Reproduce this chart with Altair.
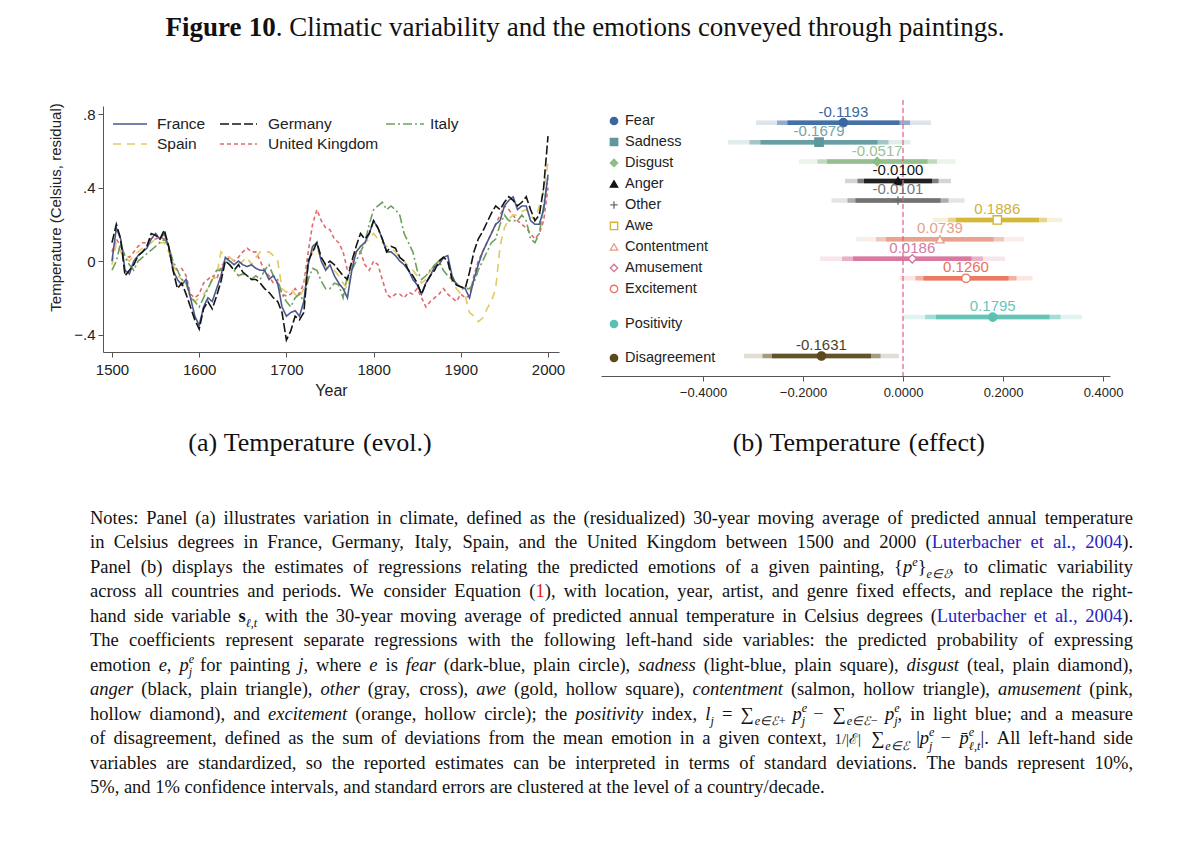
import re
import altair as alt
import pandas as pd

W, H = 1184, 836

# ---------------- Panel (a): residual temperature, 5-year steps ----------------
years = list(range(1500, 2001, 5))
countries = ["France", "Germany", "Italy", "Spain", "United Kingdom"]
france = [0.00, 0.18, 0.12, -0.05, -0.07, 0.00, 0.03, 0.05, 0.07, 0.12, 0.15, 0.12, 0.15, 0.08, -0.05, -0.10, -0.13, -0.10, -0.20, -0.30,
          -0.35, -0.25, -0.20, -0.22, -0.15, -0.08, 0.02, 0.00, -0.02, 0.00, -0.02, -0.03, -0.02, -0.04, -0.05, -0.05, -0.10, -0.08, -0.12, -0.25,
          -0.30, -0.28, -0.27, -0.30, -0.22, -0.02, 0.08, 0.10, 0.00, -0.05, -0.02, -0.08, -0.12, -0.15, -0.20, -0.05, 0.05, 0.08, 0.10, 0.15,
          0.22, 0.18, 0.12, 0.05, 0.05, 0.03, 0.00, -0.02, -0.05, -0.10, -0.13, -0.18, -0.12, -0.08, -0.03, -0.02, 0.02, 0.03, -0.08, -0.13,
          -0.14, -0.15, -0.20, -0.10, -0.02, 0.05, 0.10, 0.15, 0.20, 0.22, 0.30, 0.33, 0.35, 0.28, 0.30, 0.30, 0.22, 0.20, 0.20, 0.28,
          0.47]
germany = [0.10, 0.20, 0.12, -0.08, -0.05, -0.02, 0.03, 0.05, 0.08, 0.15, 0.14, 0.12, 0.17, 0.08, -0.05, -0.15, -0.12, -0.18, -0.25, -0.32,
           -0.37, -0.26, -0.22, -0.26, -0.19, -0.11, 0.00, -0.02, -0.05, -0.02, -0.06, -0.08, -0.10, -0.10, -0.12, -0.15, -0.17, -0.20, -0.22, -0.28,
           -0.43, -0.38, -0.30, -0.32, -0.28, 0.00, 0.05, 0.10, 0.02, -0.02, 0.00, -0.02, -0.05, -0.08, -0.10, 0.00, 0.08, 0.15, 0.12, 0.15,
           0.22, 0.18, 0.12, 0.05, 0.08, 0.07, 0.02, 0.00, -0.05, -0.08, -0.12, -0.18, -0.12, -0.08, -0.05, 0.00, 0.02, 0.00, -0.10, -0.13,
           -0.14, -0.15, -0.06, 0.05, 0.12, 0.16, 0.21, 0.26, 0.30, 0.28, 0.32, 0.35, 0.33, 0.30, 0.32, 0.35, 0.28, 0.22, 0.25, 0.40,
           0.68]
italy = [-0.05, 0.00, 0.10, 0.02, -0.02, -0.05, 0.00, 0.02, 0.04, 0.06, 0.08, 0.10, 0.12, 0.08, 0.00, -0.05, -0.10, -0.12, -0.20, -0.22,
         -0.25, -0.20, -0.15, -0.10, -0.05, -0.05, 0.00, -0.02, -0.05, -0.08, -0.07, -0.08, -0.10, -0.08, -0.10, -0.05, -0.02, -0.08, -0.10, -0.18,
         -0.22, -0.25, -0.20, -0.18, -0.22, -0.10, -0.04, -0.05, -0.11, -0.15, -0.15, -0.12, -0.13, -0.20, -0.08, -0.05, 0.00, 0.05, 0.10, 0.20,
         0.28, 0.30, 0.32, 0.28, 0.30, 0.28, 0.25, 0.15, 0.10, 0.05, -0.05, -0.10, -0.08, -0.05, -0.02, 0.00, -0.05, -0.08, -0.10, -0.12,
         -0.15, -0.15, -0.15, -0.12, -0.05, 0.00, 0.05, 0.10, 0.12, 0.20, 0.25, 0.22, 0.22, 0.22, 0.25, 0.22, 0.12, 0.10, 0.15, 0.30,
         0.45]
spain = [-0.02, 0.10, 0.05, 0.02, 0.00, 0.03, 0.05, 0.07, 0.08, 0.10, 0.12, 0.10, 0.10, 0.05, -0.02, -0.08, -0.10, -0.12, -0.18, -0.22,
         -0.20, -0.18, -0.15, -0.10, -0.08, 0.05, 0.03, 0.02, 0.00, -0.02, 0.00, 0.02, -0.02, 0.02, 0.05, 0.05, 0.05, 0.03, 0.00, -0.15,
         -0.17, -0.15, -0.18, -0.20, -0.15, 0.00, 0.05, 0.08, 0.00, -0.03, -0.05, -0.05, -0.08, -0.12, -0.15, -0.05, 0.05, 0.08, 0.10, 0.12,
         0.15, 0.12, 0.10, 0.08, 0.07, 0.05, 0.02, 0.00, -0.03, -0.05, -0.08, -0.12, -0.10, -0.05, -0.02, 0.00, 0.02, 0.00, -0.12, -0.15,
         -0.18, -0.19, -0.28, -0.30, -0.33, -0.31, -0.26, -0.22, -0.15, 0.08, 0.18, 0.23, 0.25, 0.25, 0.27, 0.28, 0.25, 0.22, 0.30, 0.38,
         0.54]
uk = [0.05, 0.12, 0.08, 0.03, 0.02, 0.05, 0.08, 0.10, 0.10, 0.12, 0.12, 0.13, 0.12, 0.08, -0.02, -0.05, -0.04, -0.08, -0.18, -0.20,
      -0.18, -0.12, -0.10, -0.08, -0.10, -0.03, 0.00, 0.02, 0.00, 0.02, 0.05, 0.07, 0.05, 0.05, 0.00, -0.05, -0.08, -0.12, -0.12, -0.18,
      -0.19, -0.18, -0.15, -0.18, -0.12, 0.05, 0.20, 0.28, 0.22, 0.18, 0.17, 0.12, 0.10, 0.05, -0.05, -0.02, 0.05, 0.05, -0.02, -0.05,
      0.00, -0.02, -0.10, -0.18, -0.20, -0.18, -0.18, -0.20, -0.17, -0.18, -0.15, -0.20, -0.25, -0.22, -0.20, -0.18, -0.15, -0.18, -0.20, -0.22,
      -0.18, -0.20, -0.19, -0.08, 0.00, 0.05, 0.10, 0.15, 0.20, 0.25, 0.30, 0.28, 0.25, 0.22, 0.20, 0.18, 0.15, 0.12, 0.15, 0.22,
      0.40]
series = {"France": france, "Germany": germany, "Italy": italy, "Spain": spain, "United Kingdom": uk}
line_colors = ["#4b5a8e", "#141414", "#6f9f5c", "#e2c964", "#e26a6a"]
line_dashes = [[1, 0], [9, 3], [9, 3, 2, 3], [8, 6], [4, 3]]

# ---------------- Panel (b): coefficient estimates ----------------
emotions = ["Fear", "Sadness", "Disgust", "Anger", "Other", "Awe", "Contentment",
            "Amusement", "Excitement", "Positivity", "Disagreement"]
row_pos = [0, 1, 2, 3, 4, 5, 6, 7, 8, 10, 12]
legend_row = [0, 1, 2, 3, 4, 5, 6, 7, 8, 9.67, 11.29]
estimate = [-0.1193, -0.1679, -0.0517, -0.0100, -0.0101, 0.1886, 0.0739, 0.0186, 0.1260, 0.1795, -0.1631]
lo90 = [-0.231, -0.285, -0.152, -0.078, -0.095, 0.106, -0.034, -0.100, 0.041, 0.066, -0.262]
hi90 = [-0.007, -0.051, 0.049, 0.058, 0.075, 0.272, 0.181, 0.137, 0.211, 0.293, -0.064]
lo95 = [-0.252, -0.307, -0.171, -0.091, -0.111, 0.090, -0.054, -0.122, 0.025, 0.044, -0.281]
hi95 = [0.014, -0.029, 0.068, 0.071, 0.091, 0.288, 0.202, 0.160, 0.227, 0.315, -0.045]
lo99 = [-0.294, -0.350, -0.208, -0.116, -0.143, 0.059, -0.094, -0.166, -0.007, 0.001, -0.318]
hi99 = [0.056, 0.015, 0.105, 0.096, 0.123, 0.319, 0.242, 0.204, 0.259, 0.358, -0.008]
band_colors = ["#3b67a1", "#5f979d", "#8fbb8a", "#141414", "#6a6a6a", "#d2b42c", "#e89c85",
               "#d6709b", "#e8725a", "#5bc0b2", "#5b491d"]
label_colors = ["#3b67a1", "#73a4a9", "#9cc196", "#141414", "#777777", "#cdb23a", "#e6a08c",
                "#d27aa2", "#e8725a", "#6cc5b9", "#4e3f1f"]
marker_shapes = ["circle", "square", "diamond", "triangle-up", "M-1,0H1M0,-1V1", "square",
                 "triangle-up", "diamond", "circle", "circle", "circle"]
hollow = [False, False, False, False, False, True, True, True, True, False, False]

# ---------------- Text ----------------
title_runs = [("Figure 10", "b"), (". Climatic variability and the emotions conveyed through paintings.", "r")]
caption_a = [("(a) Temperature (evol.)", "r")]
caption_b = [("(b) Temperature (effect)", "r")]
notes = [
    [("Notes: Panel (a) illustrates variation in climate, defined as the (residualized) 30-year moving average of predicted annual temperature", "r")],
    [("in Celsius degrees in France, Germany, Italy, Spain, and the United Kingdom between 1500 and 2000 (", "r"), ("Luterbacher et al., 2004", "bl"), (").", "r")],
    [("Panel (b) displays the estimates of regressions relating the predicted emotions of a given painting, {", "r"), ("p", "i"), ("e", "sup"), ("}", "r"), ("e∈ℰ", "sub"), (", to climatic variability", "r")],
    [("across all countries and periods. We consider Equation (", "r"), ("1", "rd"), ("), with location, year, artist, and genre fixed effects, and replace the right-", "r")],
    [("hand side variable ", "r"), ("s", "b"), ("ℓ,t", "sub"), (" with the 30-year moving average of predicted annual temperature in Celsius degrees (", "r"), ("Luterbacher et al., 2004", "bl"), (").", "r")],
    [("The coefficients represent separate regressions with the following left-hand side variables: the predicted probability of expressing", "r")],
    [("emotion ", "r"), ("e", "i"), (", ", "r"), ("p", "i"), ("e", "supn"), ("j", "sub"), (" for painting ", "r"), ("j", "i"), (", where ", "r"), ("e", "i"), (" is ", "r"), ("fear", "i"), (" (dark-blue, plain circle), ", "r"), ("sadness", "i"), (" (light-blue, plain square), ", "r"), ("disgust", "i"), (" (teal, plain diamond),", "r")],
    [("anger", "i"), (" (black, plain triangle), ", "r"), ("other", "i"), (" (gray, cross), ", "r"), ("awe", "i"), (" (gold, hollow square), ", "r"), ("contentment", "i"), (" (salmon, hollow triangle), ", "r"), ("amusement", "i"), (" (pink,", "r")],
    [("hollow diamond), and ", "r"), ("excitement", "i"), (" (orange, hollow circle); the ", "r"), ("positivity", "i"), (" index, ", "r"), ("l", "i"), ("j", "sub"), (" = ∑", "r"), ("e∈ℰ+", "sub"), (" ", "r"), ("p", "i"), ("e", "supn"), ("j", "sub"), (" − ∑", "r"), ("e∈ℰ−", "sub"), (" ", "r"), ("p", "i"), ("e", "supn"), ("j", "sub"), (", in light blue; and a measure", "r")],
    [("of disagreement, defined as the sum of deviations from the mean emotion in a given context, ", "r"), ("1/|ℰ|", "frac"), (" ∑", "r"), ("e∈ℰ", "sub"), (" |", "r"), ("p", "i"), ("e", "supn"), ("j", "sub"), (" − ", "r"), ("p\u0304", "i"), ("e", "supn"), ("ℓ,t", "sub"), ("|. All left-hand side", "r")],
    [("variables are standardized, so the reported estimates can be interpreted in terms of standard deviations. The bands represent 10%,", "r")],
    [("5%, and 1% confidence intervals, and standard errors are clustered at the level of a country/decade.", "r")],
]

# ---------------- simple typesetter (Times metrics = Liberation Serif) ----------------
TR = {}
for ch, w in zip(" !\"#$%&'()*+,-./", [250, 333, 408, 500, 500, 833, 778, 180, 333, 333, 500, 564, 250, 333, 250, 278]):
    TR[ch] = w
for ch in "0123456789":
    TR[ch] = 500
for ch, w in zip(":;<=>?@", [278, 278, 564, 564, 564, 444, 921]):
    TR[ch] = w
for ch, w in zip("ABCDEFGHIJKLMNOPQRSTUVWXYZ", [722, 667, 667, 722, 611, 556, 722, 722, 333, 389, 722, 611, 889, 722, 722, 556, 722, 667, 556, 611, 722, 722, 944, 722, 722, 611]):
    TR[ch] = w
for ch, w in zip("abcdefghijklmnopqrstuvwxyz", [444, 500, 444, 500, 444, 333, 500, 500, 278, 278, 500, 278, 778, 500, 500, 500, 500, 333, 389, 278, 500, 500, 722, 500, 500, 444]):
    TR[ch] = w
TR.update({"[": 333, "]": 333, "{": 480, "|": 200, "}": 480})
TI = dict(TR)
for ch, w in zip("abcdefghijklmnopqrstuvwxyz", [500, 500, 444, 500, 444, 278, 500, 500, 278, 278, 444, 278, 722, 500, 500, 500, 500, 389, 389, 278, 500, 444, 667, 444, 444, 389]):
    TI[ch] = w
TB = dict(TR)
for ch, w in zip("abcdefghijklmnopqrstuvwxyz", [500, 556, 444, 556, 444, 333, 500, 556, 278, 333, 556, 278, 833, 556, 500, 556, 556, 444, 389, 333, 556, 500, 722, 500, 500, 444]):
    TB[ch] = w
TB["F"] = 611
SPECIAL = {"∈": 667, "ℰ": 760, "∑": 760, "−": 600, "ℓ": 420, "\u0304": 0}

STYLE = {
    "r": dict(tbl=TR, scale=1.0, dy=0.0, adv=True, face="r"),
    "i": dict(tbl=TI, scale=1.0, dy=0.0, adv=True, face="i"),
    "b": dict(tbl=TB, scale=1.0, dy=0.0, adv=True, face="b"),
    "bl": dict(tbl=TR, scale=1.0, dy=0.0, adv=True, face="bl"),
    "rd": dict(tbl=TR, scale=1.0, dy=0.0, adv=True, face="rd"),
    "sup": dict(tbl=TI, scale=0.66, dy=-0.40, adv=True, face="i"),
    "supn": dict(tbl=TI, scale=0.66, dy=-0.42, adv=False, face="i"),
    "sub": dict(tbl=TI, scale=0.66, dy=0.30, adv=True, face="i"),
    "frac": dict(tbl=TR, scale=0.8, dy=0.0, adv=True, face="r"),
}


def typeset(runs, x, y, fs, target=None, center=None):
    items = []
    for text, st in runs:
        spec = STYLE[st]
        for part in re.split(r"( )", text):
            if not part:
                continue
            w = sum(spec["tbl"].get(ch, SPECIAL.get(ch, 500)) for ch in part) * fs * spec["scale"] / 1000.0
            items.append((part, st, w))
    adv = [w if (STYLE[st]["adv"] or part == " ") else 0.0 for part, st, w in items]
    natural = sum(adv)
    nsp = sum(1 for part, st, w in items if part == " ")
    extra = (target - natural) / nsp if (target and nsp) else 0.0
    if center is not None:
        x = center - natural / 2.0
    out, cx = [], x
    for (part, st, w), a in zip(items, adv):
        if part == " ":
            cx += w + extra
            continue
        spec = STYLE[st]
        out.append(dict(text=part, face=spec["face"], x=cx, y=y + spec["dy"] * fs, fs=fs * spec["scale"]))
        cx += a
    return out


text_rows = []
text_rows += typeset(title_runs, 0, 28, 27, center=577)
text_rows += typeset(caption_a, 0, 443, 26, center=302)
text_rows += typeset(caption_b, 0, 443, 26, center=851)
NOTE_X, NOTE_W, NOTE_Y0, NOTE_DY, NOTE_FS = 82, 1043, 516, 24.45, 18.5
for k, runs in enumerate(notes):
    tgt = NOTE_W if k < len(notes) - 1 else None
    text_rows += typeset(runs, NOTE_X, NOTE_Y0 + k * NOTE_DY, NOTE_FS, target=tgt)
text_df = pd.DataFrame(text_rows)

# ---------------- Panel (a) chart ----------------
order = ["United Kingdom", "Spain", "Italy", "France", "Germany"]
rows = []
for c in order:
    for yr, v in zip(years, series[c]):
        rows.append({"country": c, "year": yr, "temp": v})
df_a = pd.DataFrame(rows)

AX = dict(labelFont="Liberation Sans", titleFont="Liberation Sans", labelColor="#222", titleColor="#222",
          domainColor="#555", tickColor="#555", grid=False, tickSize=5, titleFontWeight="normal")
xa = alt.Scale(domain=[1489.7, 2012.6], range=[95, 551], nice=False, zero=False)
ya = alt.Scale(domain=[-0.495, 0.844], range=[344, 98], nice=False, zero=False)
lines = alt.Chart(df_a).mark_line(strokeWidth=1.6).encode(
    x=alt.X("year:Q", scale=xa, axis=alt.Axis(orient="bottom", offset=344 - H, values=list(range(1500, 2001, 100)),
                                                format="d", title="Year", labelFontSize=15, titleFontSize=16,
                                                labelPadding=5, titlePadding=5, **AX)),
    y=alt.Y("temp:Q", scale=ya, axis=alt.Axis(orient="left", offset=-95, values=[-0.4, 0, 0.4, 0.8],
                                               labelExpr="datum.value == 0 ? '0' : replace(format(datum.value, '.1f'), '0.', '.')",
                                               title="Temperature (Celsius, residual)", labelFontSize=15, titleFontSize=15,
                                               labelPadding=3, titlePadding=10, titleY=199, **AX)),
    color=alt.Color("country:N", scale=alt.Scale(domain=countries, range=line_colors), legend=None),
    strokeDash=alt.StrokeDash("country:N", scale=alt.Scale(domain=countries, range=line_dashes), legend=None),
)
leg_slots = {"France": (105, 139, 149, 116), "Germany": (212, 249, 260, 116), "Italy": (378, 416, 422, 116),
             "Spain": (105, 139, 149, 136), "United Kingdom": (212, 249, 260, 136)}
leg_a = []
for i, c in enumerate(countries):
    x0, x1, xt, yy = leg_slots[c]
    d = pd.DataFrame({"country": [c]})
    leg_a.append(alt.Chart(d).mark_rule(color=line_colors[i], strokeDash=line_dashes[i], strokeWidth=1.6).encode(
        x=alt.value(x0), x2=alt.value(x1), y=alt.value(yy)))
    leg_a.append(alt.Chart(d).mark_text(align="left", baseline="middle", font="Liberation Sans", fontSize=15.5,
                                         color="#222").encode(x=alt.value(xt), y=alt.value(yy), text="country:N"))
left_group = alt.layer(lines, *leg_a)

# ---------------- Panel (b) chart ----------------
df_b = pd.DataFrame({"name": emotions, "pos": row_pos, "lrow": legend_row, "est": estimate,
                     "lo90": lo90, "hi90": hi90, "lo95": lo95, "hi95": hi95, "lo99": lo99, "hi99": hi99})
df_b["label"] = [f"{v:.4f}" for v in estimate]
xb = alt.Scale(domain=[-0.604, 0.414], range=[593, 1102], nice=False, zero=False)
yb = alt.Scale(domain=[0, 12], range=[114.7, 348], nice=False, zero=False)
axb = alt.Axis(orient="bottom", offset=368 - H, values=[-0.4, -0.2, 0, 0.2, 0.4], format=".4f", title=None,
               labelFontSize=13, labelPadding=5, **AX)
col_b = alt.Scale(domain=emotions, range=band_colors)
lab_b = alt.Scale(domain=emotions, range=label_colors)
shp_b = alt.Scale(domain=emotions, range=marker_shapes)
fill_b = alt.Scale(domain=emotions, range=["white" if h else c for h, c in zip(hollow, band_colors)])
base_b = alt.Chart(df_b)
bands = []
for lo, hi, op in [("lo99", "hi99", 0.18), ("lo95", "hi95", 0.45), ("lo90", "hi90", 0.88)]:
    bands.append(base_b.mark_rule(strokeWidth=4.5, opacity=op).encode(
        x=alt.X(f"{lo}:Q", scale=xb, axis=axb), x2=f"{hi}:Q",
        y=alt.Y("pos:Q", scale=yb, axis=None),
        color=alt.Color("name:N", scale=col_b, legend=None)))
zero_rule = alt.Chart(pd.DataFrame({"zero": [0.0]})).mark_rule(color="#d65f84", strokeDash=[5, 3], strokeWidth=1.2).encode(
    x=alt.X("zero:Q", scale=xb, axis=axb), y=alt.value(92), y2=alt.value(368))
points = base_b.mark_point(size=70, opacity=1, strokeWidth=1.3).encode(
    x=alt.X("est:Q", scale=xb, axis=axb), y=alt.Y("pos:Q", scale=yb, axis=None),
    shape=alt.Shape("name:N", scale=shp_b, legend=None),
    fill=alt.Fill("name:N", scale=fill_b, legend=None),
    stroke=alt.Stroke("name:N", scale=col_b, legend=None))
labels = base_b.mark_text(dy=-11, fontSize=15, font="Liberation Sans").encode(
    x=alt.X("est:Q", scale=xb, axis=axb), y=alt.Y("pos:Q", scale=yb, axis=None), text="label:N",
    color=alt.Color("name:N", scale=lab_b, legend=None))
right_group = alt.layer(*bands, zero_rule, points, labels).resolve_scale(color="independent")

yl = alt.Scale(domain=[0, 11.29], range=[113, 350], nice=False, zero=False)
leg_pts = base_b.mark_point(size=55, opacity=1, strokeWidth=1.3).encode(
    x=alt.value(606), y=alt.Y("lrow:Q", scale=yl, axis=None),
    shape=alt.Shape("name:N", scale=shp_b, legend=None),
    fill=alt.Fill("name:N", scale=fill_b, legend=None),
    stroke=alt.Stroke("name:N", scale=col_b, legend=None))
leg_txt = base_b.mark_text(align="left", baseline="middle", font="Liberation Sans", fontSize=14.5, color="#222").encode(
    x=alt.value(617), y=alt.Y("lrow:Q", scale=yl, axis=None), text="name:N")
legend_group = alt.layer(leg_pts, leg_txt)

# ---------------- text layers ----------------
xt = alt.Scale(domain=[0, W], range=[0, W], nice=False, zero=False)
yt = alt.Scale(domain=[0, H], range=[0, H], nice=False, zero=False)
faces = {"r": dict(fontStyle="normal", fontWeight="normal", color="#111"),
         "i": dict(fontStyle="italic", fontWeight="normal", color="#111"),
         "b": dict(fontStyle="normal", fontWeight="bold", color="#111"),
         "bl": dict(fontStyle="normal", fontWeight="normal", color="#2424c0"),
         "rd": dict(fontStyle="normal", fontWeight="normal", color="#e0201c")}
text_layers = []
for f, props in faces.items():
    text_layers.append(alt.Chart(text_df).transform_filter(alt.datum.face == f).mark_text(
        align="left", baseline="alphabetic", font="Liberation Serif", **props).encode(
        x=alt.X("x:Q", scale=xt, axis=None), y=alt.Y("y:Q", scale=yt, axis=None),
        text="text:N", size=alt.Size("fs:Q", scale=None, legend=None)))
text_group = alt.layer(*text_layers)

chart = alt.layer(left_group, right_group, legend_group, text_group).resolve_scale(
    x="independent", y="independent", color="independent", shape="independent", fill="independent",
    stroke="independent", strokeDash="independent", size="independent"
).properties(width=W, height=H, autosize=alt.AutoSizeParams(type="none"), padding=0,
             background="white").configure_view(strokeWidth=0)

chart.save("out.html", embed_options={"renderer": "svg", "actions": False})
